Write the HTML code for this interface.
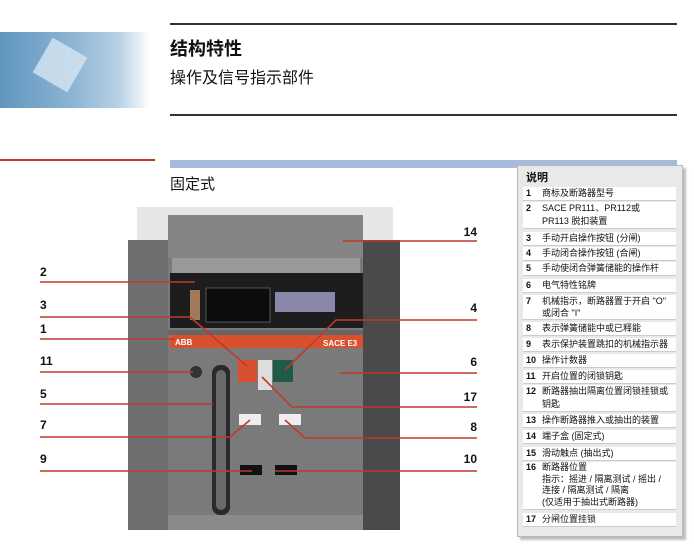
<!DOCTYPE html>
<html><head><meta charset="utf-8">
<style>
*{margin:0;padding:0;box-sizing:border-box}
body{width:694px;height:550px;background:#fff;position:relative;overflow:hidden;font-family:"Liberation Sans","Noto Sans CJK SC",sans-serif;color:#111}
.a{position:absolute}
.lg{position:absolute;left:517px;top:165px;width:166px;height:372px;background:#e9e9e9;border:1px solid #b8b8b8;box-shadow:3px 3px 2px #bdbdbd}
.row{position:absolute;left:5px;width:153px;background:#fff;font-size:9px;line-height:13px;padding-left:19px;border-bottom:1px solid #ccc}
.row b{position:absolute;left:3px;top:0;font-weight:bold}
.lbl{position:absolute;font-size:12px;font-weight:bold}
</style></head><body>
<div class="a" style="left:0;top:32px;width:150px;height:76px;background:linear-gradient(90deg,#5f95bd 0%,#8fb6d4 50%,#b9d2e6 80%,#fff 100%)"></div>
<div class="a" style="left:40px;top:45px;width:40px;height:40px;background:#d7e6f1;transform:rotate(30deg);opacity:.8"></div>
<div class="a" style="left:170px;top:23px;width:507px;height:2px;background:#333"></div>
<div class="a" style="left:170px;top:35px;font-size:18px;font-weight:bold">结构特性</div>
<div class="a" style="left:170px;top:64px;font-size:16px">操作及信号指示部件</div>
<div class="a" style="left:170px;top:114px;width:507px;height:2px;background:#333"></div>
<div class="a" style="left:0;top:159px;width:155px;height:2px;background:#c0392b"></div>
<div class="a" style="left:170px;top:160px;width:507px;height:8px;background:#a6bbdc"></div>
<div class="a" style="left:170px;top:173px;font-size:15px">固定式</div>

<svg class="a" style="left:0;top:0" width="694" height="550">
<rect x="137" y="207" width="256" height="40" fill="#e6e6e6"/>
<rect x="128" y="240" width="272" height="290" fill="#6e6e6e"/>
<rect x="362" y="240" width="38" height="290" fill="#4a4a4a"/>
<rect x="168" y="215" width="195" height="315" fill="#7a7a7a"/>
<rect x="168" y="215" width="195" height="43" fill="#848484"/>
<rect x="172" y="258" width="188" height="15" fill="#999"/>
<rect x="170" y="273" width="193" height="55" fill="#1d1d1d"/>
<rect x="206" y="288" width="64" height="34" fill="#0c0c0c" stroke="#555"/>
<rect x="275" y="292" width="60" height="20" fill="#8a88aa"/>
<rect x="190" y="290" width="10" height="30" fill="#a07a5a"/>
<rect x="168" y="330" width="195" height="5" fill="#666"/>
<rect x="170" y="335" width="193" height="13" fill="#d9502e"/>
<text x="175" y="345" font-size="8" fill="#fff" font-weight="bold">ABB</text>
<text x="323" y="346" font-size="8" fill="#fff" font-weight="bold">SACE E3</text>
<rect x="212" y="365" width="18" height="150" rx="8" fill="#2a2a2a"/>
<rect x="216" y="370" width="10" height="140" rx="5" fill="#6a6a6a"/>
<rect x="238" y="360" width="19" height="22" fill="#d9502e"/>
<rect x="258" y="360" width="14" height="30" fill="#ddd"/>
<rect x="273" y="360" width="20" height="22" fill="#1f5a4a"/>
<rect x="239" y="414" width="22" height="11" fill="#eee"/>
<rect x="279" y="414" width="22" height="11" fill="#eee"/>
<rect x="240" y="465" width="22" height="10" fill="#111"/>
<rect x="275" y="465" width="22" height="10" fill="#111"/>
<circle cx="196" cy="372" r="6" fill="#333"/>
<rect x="168" y="515" width="195" height="15" fill="#8a8a8a"/>
<g stroke="#c0392b" stroke-width="1.6" fill="none">
<line x1="40" y1="282" x2="195" y2="282"/>
<polyline points="40,317 190,317 247,366"/>
<line x1="40" y1="339" x2="175" y2="339"/>
<line x1="40" y1="372" x2="193" y2="372"/>
<line x1="40" y1="404" x2="213" y2="404"/>
<polyline points="40,437 230,437 250,420"/>
<line x1="40" y1="471" x2="252" y2="471"/>
<line x1="343" y1="241" x2="477" y2="241"/>
<polyline points="477,320 336,320 285,370"/>
<line x1="340" y1="373" x2="477" y2="373"/>
<polyline points="477,407 292,407 262,377"/>
<polyline points="477,438 305,438 285,420"/>
<line x1="275" y1="471" x2="477" y2="471"/>
</g>
</svg>
<div class="lbl" style="left:40px;top:265px">2</div>
<div class="lbl" style="left:40px;top:298px">3</div>
<div class="lbl" style="left:40px;top:322px">1</div>
<div class="lbl" style="left:40px;top:354px">11</div>
<div class="lbl" style="left:40px;top:387px">5</div>
<div class="lbl" style="left:40px;top:418px">7</div>
<div class="lbl" style="left:40px;top:452px">9</div>
<div class="lbl" style="left:457px;top:225px;width:20px;text-align:right">14</div>
<div class="lbl" style="left:457px;top:301px;width:20px;text-align:right">4</div>
<div class="lbl" style="left:457px;top:355px;width:20px;text-align:right">6</div>
<div class="lbl" style="left:457px;top:390px;width:20px;text-align:right">17</div>
<div class="lbl" style="left:457px;top:420px;width:20px;text-align:right">8</div>
<div class="lbl" style="left:457px;top:452px;width:20px;text-align:right">10</div>

<div class="lg">
<div class="a" style="left:8px;top:3px;font-size:11px;font-weight:bold">说明</div>
<div class="row" style="top:21px"><b>1</b>商标及断路器型号</div>
<div class="row" style="top:36px"><b>2</b>SACE PR111、PR112或<br>PR113 脱扣装置</div>
<div class="row" style="top:66px"><b>3</b>手动开启操作按钮 (分闸)</div>
<div class="row" style="top:81px"><b>4</b>手动闭合操作按钮 (合闸)</div>
<div class="row" style="top:96px"><b>5</b>手动使闭合弹簧储能的操作杆</div>
<div class="row" style="top:113px"><b>6</b>电气特性铭牌</div>
<div class="row" style="top:129px;line-height:12px"><b>7</b>机械指示，断路器置于开启 "O"<br>或闭合 "I"</div>
<div class="row" style="top:156px"><b>8</b>表示弹簧储能中或已释能</div>
<div class="row" style="top:172px"><b>9</b>表示保护装置跳扣的机械指示器</div>
<div class="row" style="top:188px"><b>10</b>操作计数器</div>
<div class="row" style="top:204px"><b>11</b>开启位置的闭锁钥匙</div>
<div class="row" style="top:219px;line-height:13px"><b>12</b>断路器抽出隔离位置闭锁挂锁或<br>钥匙</div>
<div class="row" style="top:248px"><b>13</b>操作断路器推入或抽出的装置</div>
<div class="row" style="top:264px"><b>14</b>端子盒 (固定式)</div>
<div class="row" style="top:281px"><b>15</b>滑动触点 (抽出式)</div>
<div class="row" style="top:296px;line-height:11.7px"><b>16</b>断路器位置<br>指示：摇进 / 隔离测试 / 摇出 /<br>连接 / 隔离测试 / 隔离<br>(仅适用于抽出式断路器)</div>
<div class="row" style="top:347px"><b>17</b>分闸位置挂锁</div>
</div>
</body></html>
